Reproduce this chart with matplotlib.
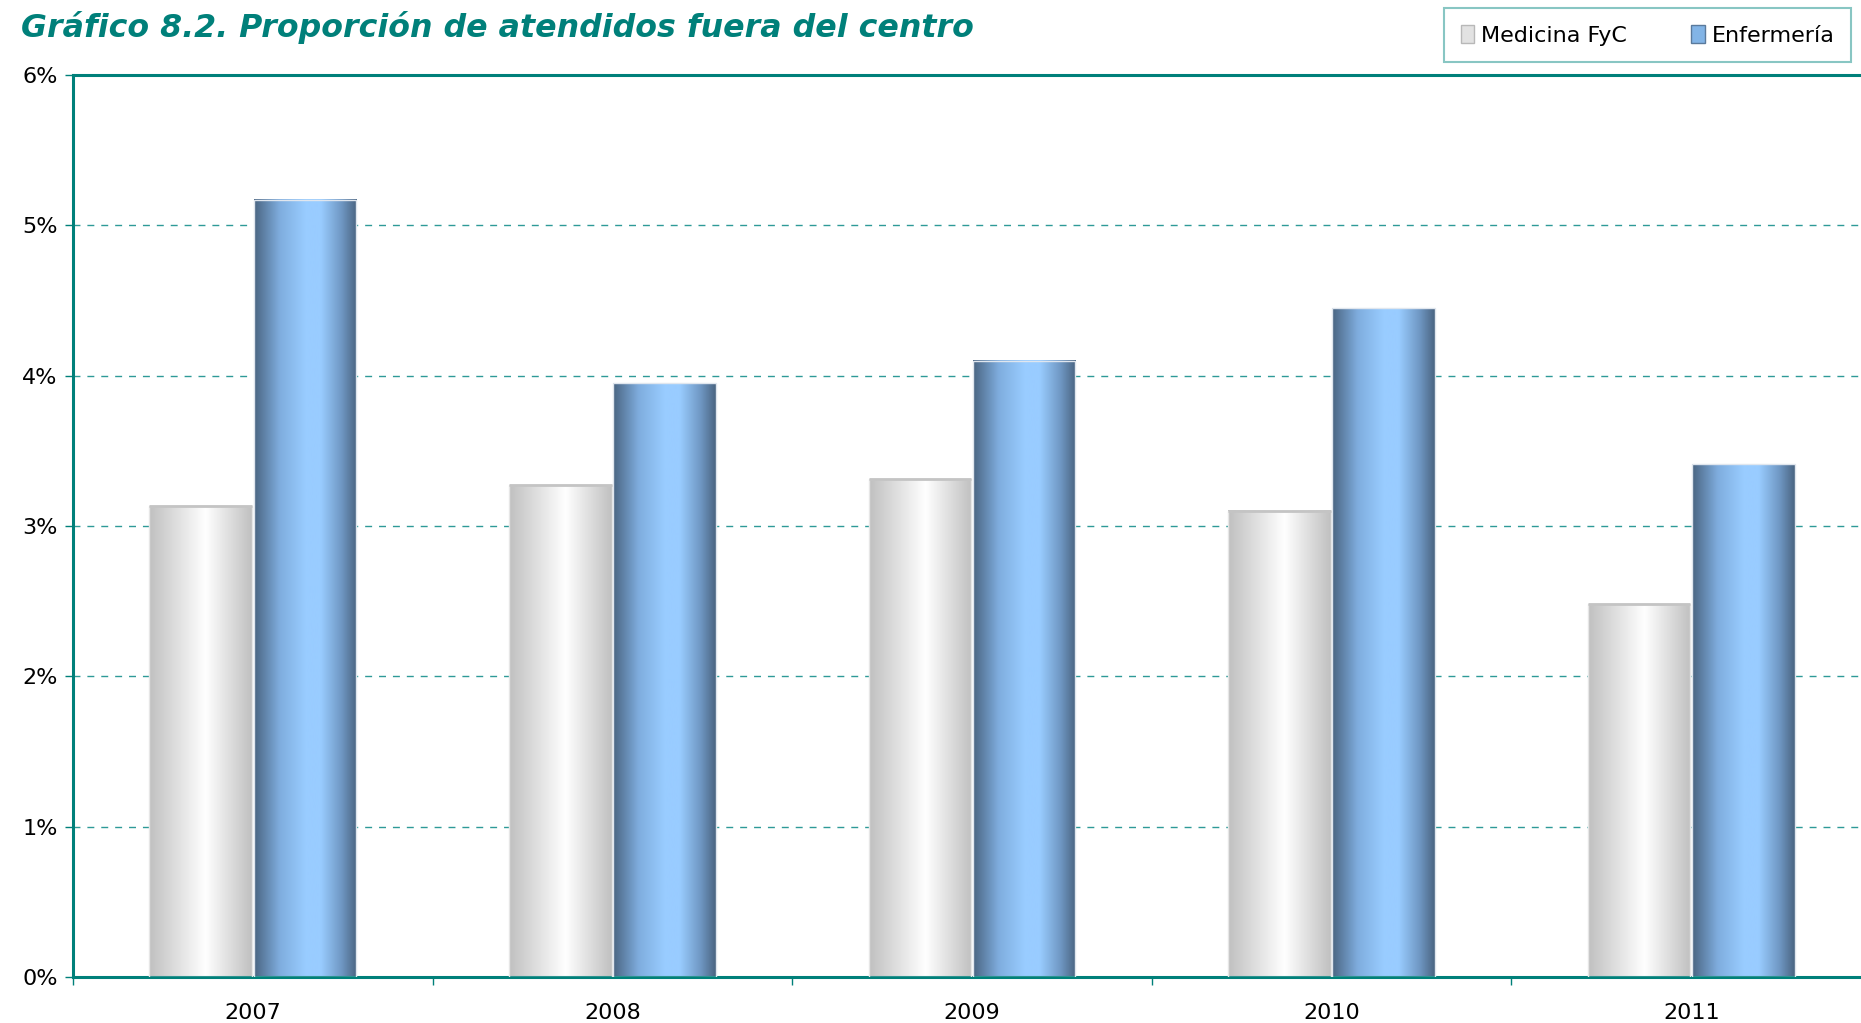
import matplotlib
matplotlib.use('Agg')
import matplotlib.pyplot as plt
import numpy as np
from matplotlib.colors import LinearSegmentedColormap
from matplotlib.patches import Patch
from matplotlib.ticker import FuncFormatter

years = ['2007', '2008', '2009', '2010', '2011']
medicina = [3.13, 3.27, 3.31, 3.10, 2.48]
enfermeria = [5.17, 3.95, 4.10, 4.45, 3.41]
series_names = ['Medicina FyC', 'Enfermería']

teal = '#00807a'
grid_teal = '#2e9a98'

# degradados tipo "cilindro"
grey_cmap = LinearSegmentedColormap.from_list(
    'grey', [(0, '#c0c0c0'), (0.55, '#ffffff'), (1, '#c0c0c0')])
blue_cmap = LinearSegmentedColormap.from_list(
    'blue', [(0, '#4a6582'), (0.25, '#7fadde'), (0.5, '#99ccff'),
             (0.65, '#99ccff'), (0.85, '#7098c4'), (1, '#4a6582')])

fig = plt.figure(figsize=(18.61, 10.23), dpi=100)
ax = fig.add_axes([73 / 1861, 46 / 1023, 1798 / 1861, 902 / 1023])

x = np.arange(len(years)) + 0.5
w = 0.285
b1 = ax.bar(x - 0.145, medicina, w, color='none', edgecolor='#e6e6e6', linewidth=1, zorder=3)
b2 = ax.bar(x + 0.145, enfermeria, w, color='none', edgecolor='#e0e6ee', linewidth=1, zorder=3)

grad = np.linspace(0, 1, 256).reshape(1, -1)
for bars, cmap in [(b1, grey_cmap), (b2, blue_cmap)]:
    for r in bars:
        x0, y0 = r.get_x(), r.get_y()
        ax.imshow(grad, cmap=cmap, aspect='auto', zorder=2,
                  extent=(x0, x0 + r.get_width(), y0, y0 + r.get_height()))
# borde superior de las barras grises
for r in b1:
    ax.plot([r.get_x(), r.get_x() + r.get_width()], [r.get_height()] * 2,
            color='#c4c4c4', lw=2, zorder=4, solid_capstyle='butt')

ax.set_xlim(0, len(years))
ax.set_ylim(0, 6)
ax.set_yticks(np.arange(0, 7, 1))
ax.yaxis.set_major_formatter(FuncFormatter(lambda v, p: f'{v:.0f}%'))
ax.set_xticks(np.arange(0, len(years) + 1))
ax.set_xticklabels([])
ax.set_xticks(x, minor=True)
ax.set_xticklabels(years, minor=True)
ax.tick_params(axis='x', which='minor', length=0, pad=19, labelsize=16)
ax.tick_params(axis='x', which='major', length=6, color=teal, width=1)
ax.tick_params(axis='y', length=6, color=teal, width=1, labelsize=16, pad=5)

ax.yaxis.grid(True, linestyle=(0, (5, 5)), color=grid_teal, linewidth=1)
ax.set_axisbelow(True)
for s in ['left', 'bottom', 'top']:
    ax.spines[s].set_color(teal)
    ax.spines[s].set_linewidth(2.2)
ax.spines['right'].set_visible(False)

fig.text(21 / 1861, 1 - 27 / 1023, 'Gráfico 8.2. Proporción de atendidos fuera del centro',
         fontsize=22.8, fontweight='bold', fontstyle='italic', color=teal,
         family='DejaVu Sans', va='center', ha='left')

handles = [Patch(facecolor='#e2e2e2', edgecolor='#b8b8b8'),
           Patch(facecolor='#82b4e6', edgecolor='#5a7a9c')]
leg = fig.legend(handles, series_names, loc='upper right', ncol=2,
                 bbox_to_anchor=(1851 / 1861, 1 - 8 / 1023), borderaxespad=0,
                 fontsize=16, frameon=True, fancybox=False, handlelength=0.6,
                 handleheight=0.9, handletextpad=0.3, columnspacing=2.9,
                 borderpad=0.75)
leg.get_frame().set_edgecolor('#6bb8b4')
leg.get_frame().set_linewidth(1.5)

fig.savefig('out.png', dpi=100)
